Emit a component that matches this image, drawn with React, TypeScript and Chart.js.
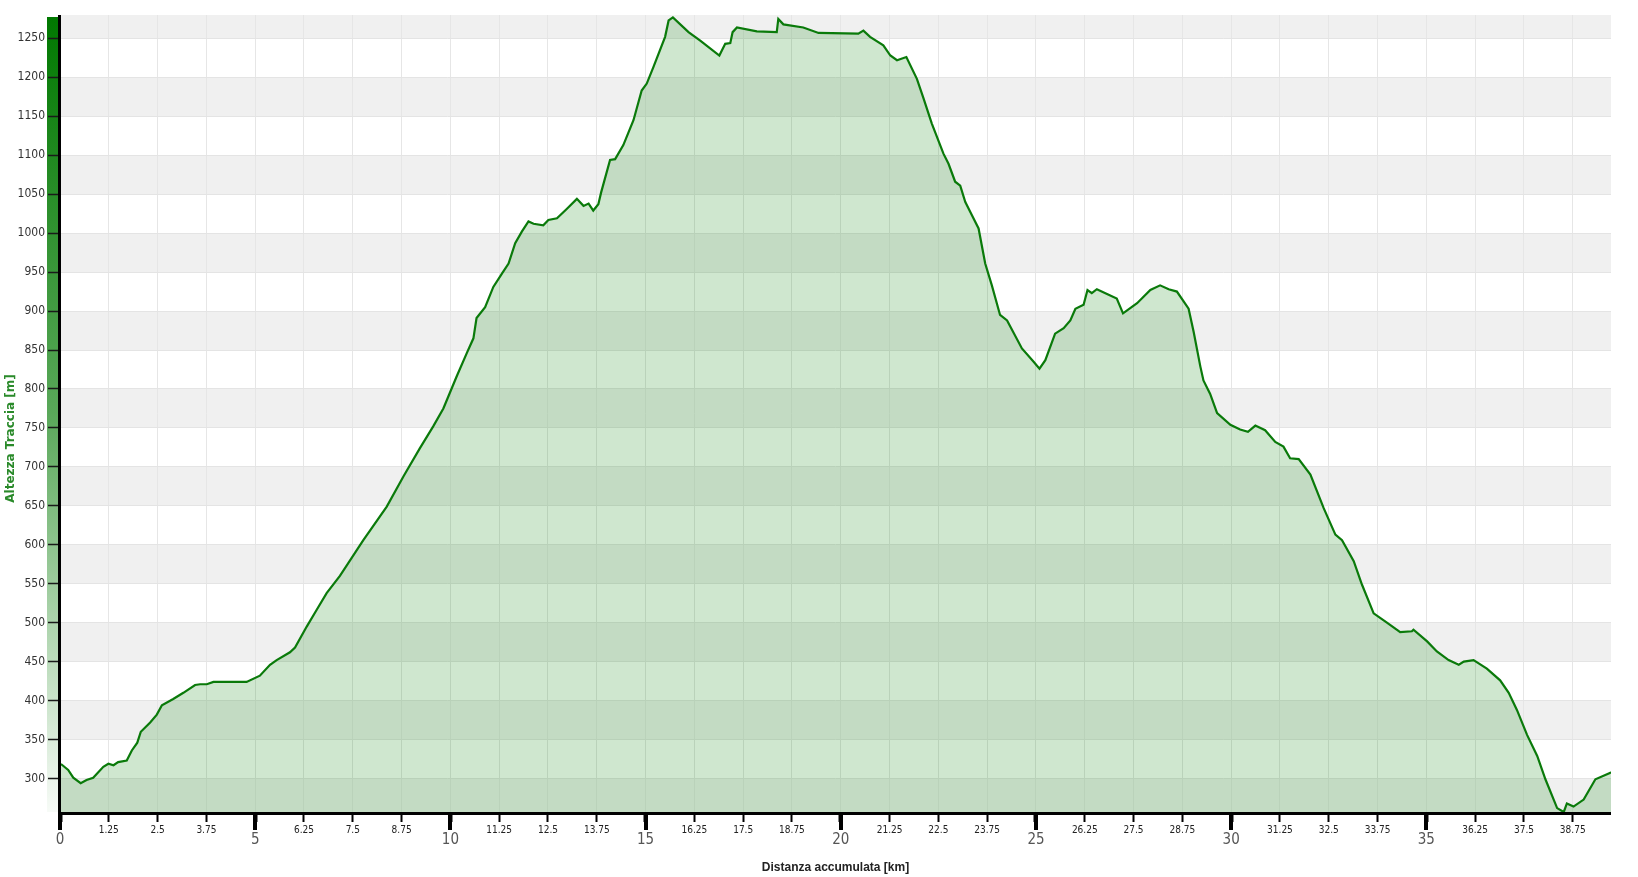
import React, { useEffect, useRef } from "react";
import { Chart, registerables } from "chart.js";

Chart.register(...registerables);

// ---- Data ----
const distanceKm = [
  0.0, 0.04, 0.21, 0.34, 0.53, 0.68, 0.85, 1.11, 1.24, 1.37, 1.49, 1.71, 1.84, 1.98, 2.07,
  2.31, 2.48, 2.61, 2.9, 3.16, 3.46, 3.59, 3.76, 3.93, 4.78, 5.12, 5.38, 5.55, 5.89, 6.02,
  6.32, 6.58, 6.83, 7.17, 7.77, 8.37, 8.8, 9.22, 9.56, 9.82, 10.16, 10.42, 10.59, 10.67,
  10.89, 11.1, 11.32, 11.49, 11.66, 11.83, 12.0, 12.13, 12.38, 12.51, 12.73, 12.98, 13.24,
  13.41, 13.54, 13.66, 13.79, 13.86, 14.09, 14.22, 14.43, 14.69, 14.9, 15.03, 15.2, 15.5,
  15.59, 15.7, 16.1, 16.4, 16.89, 17.04, 17.17, 17.23, 17.34, 17.85, 18.36, 18.4, 18.53,
  19.04, 19.43, 20.45, 20.58, 20.75, 21.09, 21.27, 21.44, 21.68, 21.95, 22.12, 22.33,
  22.63, 22.76, 22.93, 23.06, 23.19, 23.36, 23.53, 23.7, 23.87, 24.08, 24.26, 24.64, 24.94,
  25.09, 25.24, 25.49, 25.71, 25.88, 26.01, 26.22, 26.32, 26.43, 26.56, 26.82, 27.07,
  27.23, 27.59, 27.93, 28.18, 28.4, 28.61, 28.91, 29.04, 29.21, 29.29, 29.46, 29.64, 29.98,
  30.23, 30.43, 30.62, 30.87, 31.13, 31.34, 31.51, 31.73, 32.03, 32.37, 32.67, 32.84,
  33.14, 33.35, 33.65, 33.99, 34.33, 34.63, 34.67, 35.02, 35.27, 35.57, 35.83, 35.96,
  36.21, 36.55, 36.89, 37.11, 37.32, 37.58, 37.84, 38.05, 38.35, 38.52, 38.6, 38.77, 39.03,
  39.33, 39.7, 39.73,
];

const elevationM = [
  318, 318, 311, 301, 294, 298, 301, 315, 319, 317, 321, 323, 336, 346, 360,
  372, 382, 394, 402, 410, 420, 421, 421, 424, 424, 432, 446, 452, 462, 468,
  495, 517, 538, 560, 606, 649, 688, 724, 752, 775, 816, 846, 865, 891,
  905, 931, 948, 961, 987, 1002, 1015, 1012, 1010, 1017, 1019, 1031, 1044,
  1035, 1038, 1029, 1037, 1052, 1094, 1095, 1113, 1145, 1183, 1192, 1213, 1252,
  1273, 1277, 1258, 1247, 1228, 1243, 1244, 1258, 1264, 1259, 1258, 1275, 1268,
  1264, 1257, 1256, 1260, 1252, 1241, 1228, 1222, 1226, 1198, 1173, 1141,
  1102, 1089, 1066, 1061, 1040, 1023, 1006, 961, 933, 895, 888, 852, 835,
  826, 837, 871, 878, 888, 903, 908, 927, 923, 928, 922, 916,
  897, 910, 927, 933, 928, 925, 903, 873, 829, 811, 794, 769, 754,
  748, 745, 753, 747, 732, 726, 711, 710, 690, 647, 613, 606,
  579, 549, 512, 500, 488, 489, 491, 476, 463, 452, 446, 450,
  452, 441, 426, 410, 388, 356, 329, 299, 262, 257, 268, 264, 273,
  299, 307, 308,
];

const yTickValues = [
  300, 350, 400, 450, 500, 550, 600, 650, 700, 750, 800, 850, 900, 950, 1000, 1050, 1100,
  1150, 1200, 1250,
];

const xTickValues = [
  0, 1.25, 2.5, 3.75, 5, 6.25, 7.5, 8.75, 10, 11.25, 12.5, 13.75, 15, 16.25, 17.5, 18.75,
  20, 21.25, 22.5, 23.75, 25, 26.25, 27.5, 28.75, 30, 31.25, 32.5, 33.75, 35, 36.25, 37.5,
  38.75,
];

const majorEvery = 5;
const bandStarts = [250, 350, 450, 550, 650, 750, 850, 950, 1050, 1150, 1250];
const bandHeight = 50;

const Y_MIN = 257;
const Y_MAX = 1280;
const X_MIN = 0;
const X_MAX = 39.73;

const xTitle = "Distanza accumulata [km]";
const yTitle = "Altezza Traccia [m]";

const NARROW = "'Liberation Sans Narrow', 'DejaVu Sans Condensed', 'Liberation Sans', sans-serif";
const SANS = "'Liberation Sans', Arial, sans-serif";

const isMajor = (v: number) => Math.abs(v / majorEvery - Math.round(v / majorEvery)) < 1e-9;

const decorPlugin = {
  id: "decor",
  beforeDraw(chart: any) {
    const { ctx, chartArea: a, scales } = chart;
    const y = scales.y;
    ctx.save();
    ctx.fillStyle = "#f0f0f0";
    for (const v of bandStarts) {
      const t = Math.max(a.top, y.getPixelForValue(v + bandHeight));
      const b = Math.min(a.bottom, y.getPixelForValue(v));
      if (b > t) ctx.fillRect(a.left, t, a.right - a.left, b - t);
    }
    const g = ctx.createLinearGradient(0, a.top, 0, a.bottom);
    g.addColorStop(0, "#007800");
    g.addColorStop(0.5, "#5aa85a");
    g.addColorStop(1, "#f7fbf7");
    ctx.fillStyle = g;
    ctx.fillRect(a.left - 13, a.top + 2, 11, a.bottom - a.top - 2);
    ctx.restore();
  },
  afterDraw(chart: any) {
    const { ctx, chartArea: a, scales } = chart;
    const x = scales.x;
    ctx.save();
    ctx.fillStyle = "#000";
    // axis lines
    ctx.fillRect(a.left - 2, a.top, 3, a.bottom - a.top + 3);
    ctx.fillRect(a.left - 2, a.bottom, a.right - a.left + 2, 3);
    // longer major ticks
    for (const v of xTickValues) {
      if (isMajor(v)) {
        const px = Math.round(x.getPixelForValue(v));
        ctx.fillRect(px - 2, a.bottom, 4, 18);
      }
    }
    // y axis title (centred on the whole canvas height)
    ctx.translate(11, chart.height / 2);
    ctx.rotate(-Math.PI / 2);
    ctx.font = "bold 12px 'DejaVu Sans', sans-serif";
    ctx.fillStyle = "#2a8a2a";
    ctx.textAlign = "center";
    ctx.textBaseline = "middle";
    ctx.fillText(yTitle, 0, 0);
    ctx.restore();
  },
};

export default function App() {
  const ref = useRef<HTMLCanvasElement | null>(null);

  useEffect(() => {
    const canvas = ref.current;
    if (!canvas) return;
    const points = distanceKm.map((d, i) => ({ x: d, y: elevationM[i] }));
    const chart = new Chart(canvas, {
      type: "line",
      data: {
        datasets: [
          {
            data: points,
            borderColor: "#0a7a0a",
            borderWidth: 2.2,
            backgroundColor: "rgba(0,128,0,0.19)",
            fill: "start",
            pointRadius: 0,
            tension: 0,
          },
        ],
      },
      options: {
        animation: false,
        responsive: false,
        layout: { padding: { left: 0, right: 27, top: 15, bottom: 0 } },
        plugins: { legend: { display: false }, tooltip: { enabled: false } },
        scales: {
          x: {
            type: "linear",
            min: X_MIN,
            max: X_MAX,
            border: { display: false },
            afterBuildTicks: (s: any) => {
              s.ticks = xTickValues.map((v) => ({ value: v, major: isMajor(v) }));
            },
            afterFit: (s: any) => {
              s.height = 65;
            },
            grid: {
              color: "#e6e6e6",
              lineWidth: 1,
              drawTicks: true,
              tickLength: 10,
              tickColor: "#000",
              tickWidth: (c: any) => (c.tick && isMajor(c.tick.value) ? 4 : 2),
            },
            ticks: {
              autoSkip: false,
              maxRotation: 0,
              padding: 3,
              callback: (v: any) => String(v),
              color: (c: any) => (c.tick && isMajor(c.tick.value) ? "#555" : "#222"),
              font: (c: any) =>
                c.tick && isMajor(c.tick.value)
                  ? { family: NARROW, size: 15, lineHeight: "30px" }
                  : { family: NARROW, size: 10, lineHeight: "10px" },
            },
            title: {
              display: true,
              text: xTitle,
              color: "#222",
              font: { family: SANS, size: 12, weight: "bold" },
              padding: { top: 4, bottom: 2 },
            },
          },
          y: {
            type: "linear",
            min: Y_MIN,
            max: Y_MAX,
            border: { display: false },
            afterBuildTicks: (s: any) => {
              s.ticks = yTickValues.map((v) => ({ value: v }));
            },
            afterFit: (s: any) => {
              s.width = 60;
            },
            grid: {
              color: "#e4e4e4",
              lineWidth: 1,
              tickLength: 12,
              tickColor: "#1a1a1a",
              tickWidth: 1.5,
            },
            ticks: {
              padding: 3,
              color: "#333",
              font: { family: NARROW, size: 12 },
              callback: (v: any) => String(v),
            },
          },
        },
      },
      plugins: [decorPlugin],
    } as any);
    return () => chart.destroy();
  }, []);

  return (
    <div style={{ position: "absolute", left: 0, top: 0, width: 1638, height: 877, background: "#fff" }}>
      <canvas ref={ref} width={1638} height={877} style={{ display: "block" }} />
    </div>
  );
}
